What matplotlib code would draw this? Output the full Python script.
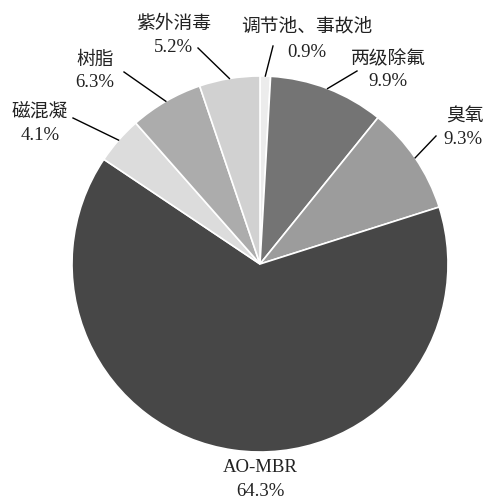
import matplotlib
matplotlib.use("Agg")
import matplotlib.pyplot as plt
import numpy as np

labels = ["调节池、事故池", "两级除氟", "臭氧", "AO-MBR", "磁混凝", "树脂", "紫外消毒"]
values = [0.9, 9.9, 9.3, 64.3, 4.1, 6.3, 5.2]
colors = ["#ececec", "#747474", "#9c9c9c", "#474747", "#dcdcdc", "#acacac", "#d1d1d1"]

# layout (pixel positions in the 488x502 canvas)
W, H = 488, 502
CX, CY, R = 260, 265, 188
# (name center x, name y, pct center x, pct y, line end x, line end y)
label_layout = [
    (307, 27, 307, 52, 273, 47),
    (388, 60, 388, 81, 357, 72),
    (465, 117, 463, 140, 436, 137),
    (260, 468, 260, 492, None, None),
    (40, 112, 40, 136, 73, 119),
    (95, 60, 95, 82, 124, 73),
    (174, 24, 173, 47, 198, 49),
]

def px(x, y):
    return (x - CX) / R, (CY - y) / R

fig = plt.figure(figsize=(W / 100, H / 100), dpi=100)
ax = fig.add_axes([0, 0, 1, 1])
wedges, _ = ax.pie(values, colors=colors, startangle=90, counterclock=False,
                   radius=1, center=(0, 0),
                   wedgeprops=dict(edgecolor="white", linewidth=1.2))
ax.set_xlim(-CX / R, (W - CX) / R)
ax.set_ylim(-(H - CY) / R, CY / R)
ax.set_aspect("equal")
ax.axis("off")

fam = ["Liberation Serif", "Noto Sans CJK SC"]
fs = 13.5
for w, name, val, lay in zip(wedges, labels, values, label_layout):
    nx, ny, vx, vy, lx, ly = lay
    ang = np.deg2rad((w.theta1 + w.theta2) / 2)
    sx, sy = np.cos(ang), np.sin(ang)
    if lx is not None:
        ex, ey = px(lx, ly)
        ax.plot([sx, ex], [sy, ey], color="black", linewidth=1.0)
    ax.text(*px(nx, ny), name, ha="center", va="center", fontsize=fs, family=fam, color="#222222")
    ax.text(*px(vx, vy), f"{val:.1f}%", ha="center", va="center", fontsize=fs, family=fam, color="#222222")

fig.savefig("out.png", dpi=100)
